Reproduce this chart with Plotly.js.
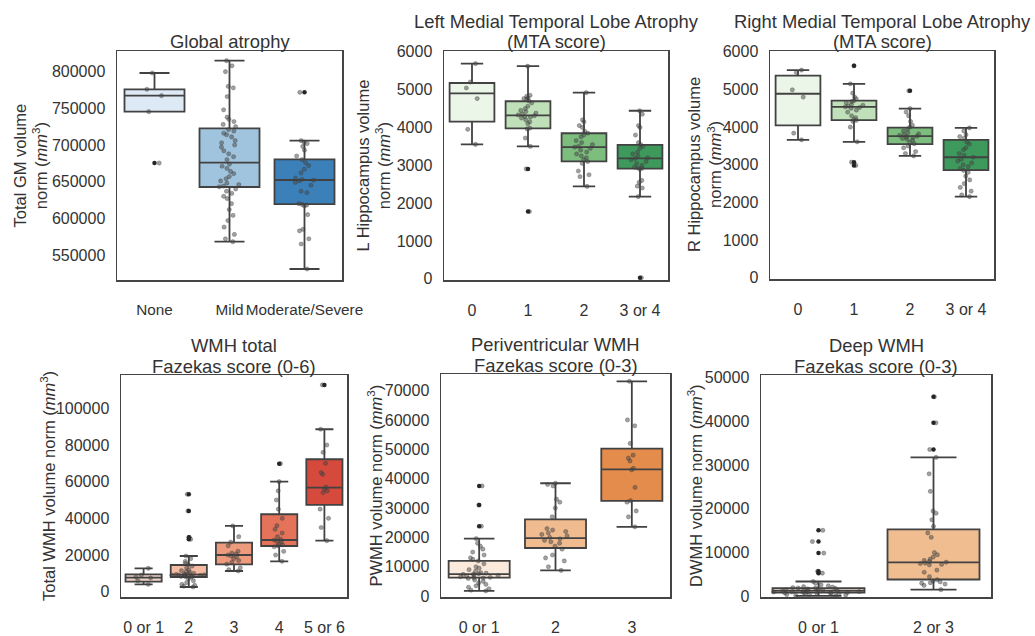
<!DOCTYPE html>
<html><head><meta charset="utf-8">
<script src="https://cdn.plot.ly/plotly-3.0.1.min.js"></script>
<style>html,body{margin:0;padding:0;background:#fff}#chart{width:1035px;height:636px}</style>
</head><body><div id="chart"></div>
<script>
// ---------- Global atrophy ----------
const gaCats = ['None', 'Mild', 'Moderate/Severe'];
const gaQ1 = [745400, 642700, 619500];
const gaMed = [767300, 675900, 652300];
const gaQ3 = [776000, 722700, 680400];
const gaLo = [745400, 568100, 530900];
const gaHi = [798200, 815000, 705900];
const gaOut = [[675400], [], [771800]];
const gaPts = [
  [798200, 776000, 767300, 745400, 675400],
  [815000, 808000, 800000, 780000, 778000, 766000, 748000, 738000, 735000, 732000, 728000, 725000, 721000, 719000, 716000, 714000, 711000, 706000, 703000, 700000, 697000, 692000, 688000, 684000, 680000, 674000, 671000, 668000, 664000, 661000, 657000, 654000, 651000, 648000, 646000, 644000, 643000, 640000, 637000, 634000, 630000, 627000, 620000, 612000, 604000, 597000, 588000, 578000, 572000, 568100],
  [771800, 705900, 704000, 702000, 698000, 693000, 685000, 680000, 676000, 672000, 667000, 662000, 655000, 653000, 652000, 651000, 649000, 645000, 637000, 635000, 620000, 619000, 618000, 617000, 605000, 585000, 583000, 572000, 565000, 530900]
];
// ---------- Left MTA ----------
const mtaCats = ['0', '1', '2', '3 or 4'];
const lQ1 = [4153, 3978, 3106, 2913];
const lMed = [4902, 4318, 3481, 3185];
const lQ3 = [5174, 4693, 3847, 3541];
const lLo = [3551, 3499, 2442, 2172];
const lHi = [5687, 5618, 4920, 4441];
const lOut = [[], [2905, 1780], [], [30]];
const lPts = [
  [5687, 5200, 5043, 4763, 3952, 3551],
  [5618, 4850, 4820, 4780, 4760, 4740, 4700, 4650, 4560, 4500, 4450, 4420, 4380, 4350, 4330, 4310, 4290, 4270, 4250, 4200, 4150, 4100, 3980, 3960, 3720, 3499, 2905, 1780],
  [4920, 4200, 4150, 4050, 4000, 3900, 3850, 3800, 3750, 3650, 3600, 3550, 3500, 3480, 3450, 3400, 3350, 3300, 3250, 3200, 3150, 3100, 3050, 2850, 2750, 2700, 2442],
  [4441, 4350, 4050, 4000, 3800, 3600, 3550, 3500, 3450, 3350, 3300, 3250, 3200, 3180, 3150, 3100, 3050, 3000, 2950, 2930, 2920, 2900, 2600, 2550, 2450, 2400, 2172, 30]
];
// ---------- Right MTA ----------
const rQ1 = [4048, 4187, 3551, 2861];
const rMed = [4886, 4536, 3760, 3201];
const rQ3 = [5365, 4702, 3986, 3664];
const rLo = [3664, 3611, 3237, 2155];
const rHi = [5514, 5148, 4493, 3978];
const rOut = [[], [5627, 3070, 2983], [4964], []];
const rPts = [
  [5514, 5450, 4990, 4797, 3839, 3664],
  [5627, 5148, 4900, 4800, 4750, 4700, 4680, 4650, 4600, 4580, 4560, 4540, 4520, 4500, 4450, 4400, 4300, 4250, 4200, 4180, 4150, 4000, 3611, 3070, 2983],
  [4964, 4493, 4400, 4300, 4150, 4050, 4000, 3950, 3900, 3850, 3820, 3800, 3780, 3760, 3740, 3720, 3700, 3680, 3650, 3600, 3560, 3500, 3450, 3350, 3300, 3237],
  [3978, 3900, 3800, 3750, 3700, 3600, 3550, 3450, 3400, 3300, 3250, 3200, 3150, 3100, 3050, 3000, 2950, 2900, 2850, 2800, 2700, 2600, 2500, 2400, 2300, 2200, 2155]
];
// ---------- WMH total ----------
const wCats = ['0 or 1', '2', '3', '4', '5 or 6'];
const wQ1 = [5450, 8020, 14950, 24930, 47300];
const wMed = [7640, 9290, 20020, 28200, 56730];
const wQ3 = [9490, 14560, 26730, 42220, 72220];
const wLo = [4030, 2560, 11290, 16580, 27820];
const wHi = [12760, 19470, 35840, 60000, 88580];
const wOut = [[], [53130, 44020, 29670, 28580], [], [69820], [112760]];
const wPts = [
  [12760, 9000, 8000, 7500, 6000, 4030],
  [53130, 44020, 29670, 28580, 19470, 18000, 16500, 15500, 14800, 14000, 13000, 12000, 11500, 11000, 10500, 10000, 9800, 9600, 9400, 9300, 9200, 9100, 9000, 8900, 8700, 8500, 8300, 8100, 8000, 7000, 6000, 5000, 4000, 3500, 3000, 2560],
  [35840, 30000, 27000, 25000, 22000, 21000, 20500, 20000, 19500, 19000, 18000, 17000, 16000, 15000, 13000, 12000, 11290],
  [69820, 60000, 55000, 50000, 45000, 40000, 36000, 34000, 32000, 30000, 28500, 28200, 27500, 27000, 26000, 25500, 25000, 24500, 22000, 20000, 16580],
  [112760, 88580, 80000, 76000, 70000, 65000, 64000, 57000, 56000, 55000, 54000, 45000, 40000, 35000, 27820]
];
// ---------- Periventricular WMH ----------
const pCats = ['0 or 1', '2', '3'];
const pQ1 = [6270, 16380, 32460];
const pMed = [7520, 19750, 43150];
const pQ3 = [12000, 26160, 50230];
const pLo = [1790, 8760, 23600];
const pHi = [19550, 38430, 73150];
const pOut = [[37520, 31010, 23800], [], []];
const pPts = [
  [37520, 31010, 23800, 19550, 18000, 17000, 16000, 15000, 14000, 13000, 12500, 12000, 11000, 10000, 9500, 9000, 8500, 8000, 7800, 7600, 7500, 7400, 7200, 7000, 6800, 6600, 6400, 6300, 6200, 6000, 5500, 5000, 4500, 4000, 3500, 3000, 2500, 2000, 1790],
  [38430, 38000, 37500, 33000, 32000, 30000, 27000, 23000, 22500, 22000, 21500, 21000, 20500, 20000, 19500, 19000, 18500, 18000, 17000, 16000, 14000, 13000, 12000, 10000, 8760],
  [73150, 60000, 58000, 52000, 48000, 47000, 46000, 43500, 43000, 37000, 32500, 32000, 29000, 27000, 23600]
];
// ---------- Deep WMH ----------
const dCats = ['0 or 1', '2 or 3'];
const dQ1 = [840, 3850];
const dMed = [1290, 7780];
const dQ3 = [1900, 15310];
const dLo = [100, 1520];
const dHi = [3390, 31760];
const dOut = [[15090, 12530, 9880, 5740, 5290], [45620, 39670, 33570]];
const dPts = [
  [15090, 12530, 9880, 5740, 5290, 3390, 3000, 2600, 2400, 2200, 2100, 2000, 1900, 1900, 1800, 1700, 1600, 1500, 1500, 1400, 1300, 1300, 1200, 1200, 1100, 1100, 1000, 1000, 900, 900, 800, 800, 700, 700, 600, 600, 500, 400, 300, 200, 100],
  [45620, 39670, 33570, 31760, 28000, 24000, 19500, 19000, 17500, 16000, 14500, 13500, 10000, 9500, 9000, 8500, 8200, 8000, 7800, 7600, 7500, 7300, 7200, 6000, 5500, 4500, 3800, 3500, 3300, 3100, 3000, 2800, 2500, 1520]
];

const W = 1035, H = 636;
const FONT = 'Liberation Sans, Arial, sans-serif';
const TXT = '#333333';
const TICK_FS = 16;
const TITLE_FS = 18.4;
const AX_FS = 16.5;
const MM = 'norm (<i>mm</i><sup>3</sup>)';

const panels = [
  {cats: gaCats, q1: gaQ1, med: gaMed, q3: gaQ3, lo: gaLo, hi: gaHi, out: gaOut, pts: gaPts,
   colors: ['#dde9f5', '#a0c4dd', '#3b80b8'], px: [117, 342], py: [51, 280], xfs: 15.3,
   range: [515900, 828200], dtick: 50000, title: ['Global atrophy'],
   ytitle: 'Total GM volume<br>' + MM, ytx: 30, jit: [0.3, 0.35, 0.35]},
  {cats: mtaCats, q1: lQ1, med: lMed, q3: lQ3, lo: lLo, hi: lHi, out: lOut, pts: lPts,
   colors: ['#ebf5e8', '#bfe0b8', '#7dbe7f', '#3d9a5c'], px: [444, 668], py: [51, 280], xfs: 16,
   range: [-30, 6020], dtick: 1000, title: ['Left Medial Temporal Lobe Atrophy', '(MTA score)'],
   ytitle: 'L Hippocampus volume<br>' + MM, ytx: 373, jit: [0.3, 0.45, 0.45, 0.45]},
  {cats: mtaCats, q1: rQ1, med: rMed, q3: rQ3, lo: rLo, hi: rHi, out: rOut, pts: rPts,
   colors: ['#ebf5e8', '#bfe0b8', '#7dbe7f', '#3d9a5c'], px: [770, 994], py: [51, 279], xfs: 16,
   range: [-30, 6020], dtick: 1000, title: ['Right Medial Temporal Lobe Atrophy', '(MTA score)'],
   ytitle: 'R Hippocampus volume<br>' + MM, ytx: 704, jit: [0.3, 0.45, 0.5, 0.4]},
  {cats: wCats, q1: wQ1, med: wMed, q3: wQ3, lo: wLo, hi: wHi, out: wOut, pts: wPts,
   colors: ['#efd3c7', '#f5bba3', '#ee9a7d', '#e5735a', '#d64a3d'], px: [121, 347], py: [375, 597], xfs: 16,
   range: [-2890, 118160], dtick: 20000, title: ['WMH total', 'Fazekas score (0-6)'],
   ytitle: 'Total WMH volume ' + MM, ytx: 48, jit: [0.5, 1.0, 0.5, 0.4, 0.3]},
  {cats: pCats, q1: pQ1, med: pMed, q3: pQ3, lo: pLo, hi: pHi, out: pOut, pts: pPts,
   colors: ['#fbe9dc', '#f0bb8e', '#e48c4c'], px: [441, 670], py: [374, 597], xfs: 16,
   range: [-300, 75630], dtick: 10000, title: ['Periventricular WMH', 'Fazekas score (0-3)'],
   ytitle: 'PWMH volume ' + MM, ytx: 375, jit: [0.7, 0.6, 0.2]},
  {cats: dCats, q1: dQ1, med: dMed, q3: dQ3, lo: dLo, hi: dHi, out: dOut, pts: dPts,
   colors: ['#fbe6d3', '#efbd8f'], px: [761, 991], py: [375, 597], xfs: 16,
   range: [-150, 50600], dtick: 10000, title: ['Deep WMH', 'Fazekas score (0-3)'],
   ytitle: 'DWMH volume ' + MM, ytx: 695, jit: [1.0, 0.35]}
];

const traces = [];
const layout = {
  width: W, height: H, margin: {l: 0, r: 0, t: 0, b: 0},
  paper_bgcolor: '#ffffff', plot_bgcolor: '#ffffff',
  showlegend: false, boxmode: 'overlay',
  font: {family: FONT, size: TICK_FS, color: TXT},
  annotations: []
};

panels.forEach((p, i) => {
  const k = i === 0 ? '' : String(i + 1);
  const xa = 'x' + k, ya = 'y' + k;
  p.cats.forEach((c, j) => {
    traces.push({
      type: 'box', x: [c], q1: [p.q1[j]], median: [p.med[j]], q3: [p.q3[j]],
      lowerfence: [p.lo[j]], upperfence: [p.hi[j]],
      fillcolor: p.colors[j], line: {color: '#424242', width: 1.8},
      width: 0.8, whiskerwidth: 0.5, boxpoints: false,
      xaxis: xa, yaxis: ya, hoverinfo: 'skip', showlegend: false
    });
    if (p.out[j].length) {
      traces.push({
        type: 'scatter', mode: 'markers', x: p.out[j].map(() => c), y: p.out[j],
        marker: {color: '#262626', size: 4.5}, cliponaxis: false,
        xaxis: xa, yaxis: ya, hoverinfo: 'skip', showlegend: false
      });
    }
    traces.push({
      type: 'box', x: p.pts[j].map(() => c), y: p.pts[j],
      boxpoints: 'all', jitter: p.jit[j], pointpos: 0, width: 0.8,
      fillcolor: 'rgba(0,0,0,0)', line: {width: 0, color: 'rgba(0,0,0,0)'},
      marker: {color: 'rgba(70,70,70,0.5)', size: 4.2, line: {width: 0.6, color: 'rgba(60,60,60,0.55)'}},
      xaxis: xa, yaxis: ya, hoverinfo: 'skip', showlegend: false
    });
  });
  const common = {showline: true, mirror: true, linecolor: '#454545', linewidth: 1.5,
    showgrid: false, zeroline: false, ticks: '', fixedrange: true,
    tickfont: {family: FONT, size: TICK_FS, color: TXT}};
  layout['xaxis' + k] = Object.assign({}, common, {
    domain: [p.px[0] / W, p.px[1] / W], anchor: ya, type: 'category',
    categoryorder: 'array', categoryarray: p.cats, range: [-0.5, p.cats.length - 0.5],
    tickangle: 0, ticklabelstandoff: 15,
    tickfont: {family: FONT, size: p.xfs, color: TXT}
  });
  layout['yaxis' + k] = Object.assign({}, common, {
    domain: [1 - p.py[1] / H, 1 - p.py[0] / H], anchor: xa,
    range: p.range, tick0: 0, dtick: p.dtick, tickformat: 'd', ticklabelstandoff: 7
  });
  // title lines: last line centred ~9px above the frame, previous lines 21px higher each
  const nL = p.title.length;
  p.title.forEach((t, li) => {
    const cy = p.py[0] - 9 - (nL - 1 - li) * 21;
    layout.annotations.push({
      xref: 'paper', yref: 'paper', x: (p.px[0] + p.px[1]) / 2 / W, y: 1 - cy / H,
      xanchor: 'center', yanchor: 'middle', showarrow: false, text: t,
      font: {family: FONT, size: TITLE_FS, color: TXT}
    });
  });
  layout.annotations.push({
    xref: 'paper', yref: 'paper', x: p.ytx / W, y: 1 - (p.py[0] + p.py[1]) / 2 / H,
    xanchor: 'center', yanchor: 'middle', showarrow: false, text: p.ytitle, textangle: -90,
    font: {family: FONT, size: AX_FS, color: TXT}
  });
});

Plotly.newPlot('chart', traces, layout, {staticPlot: true, displayModeBar: false});
</script>
</body></html>
